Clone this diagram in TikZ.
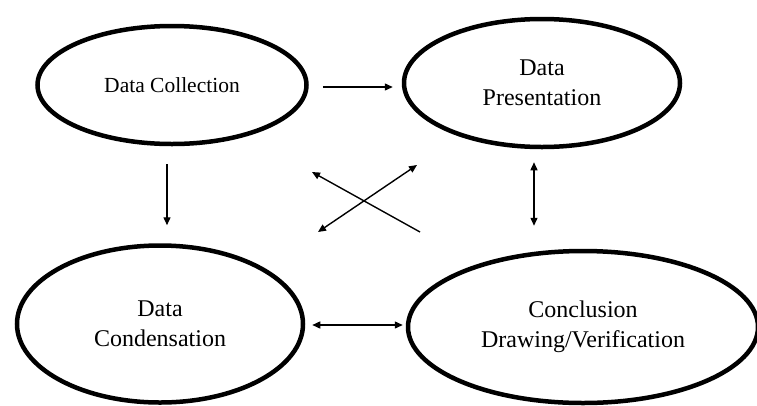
\documentclass[tikz,border=0pt]{standalone}
\usepackage{fontspec}
\setmainfont{Liberation Serif}
\usetikzlibrary{shapes.geometric, positioning, arrows.meta, calc}

\begin{document}
\begin{tikzpicture}[
    x=1pt, y=-1pt,
    stage/.style={ellipse, draw, line width=4.5pt, inner sep=0pt, align=center,
                  font=\fontsize{24}{30}\selectfont},
    flow/.style={line width=1.4pt, -{Triangle[length=8pt, width=7pt]}},
    both/.style={line width=1.4pt, {Triangle[length=8pt, width=7pt]}-{Triangle[length=8pt, width=7pt]}}
]
    \useasboundingbox (0,0) rectangle (757,405);

    % Stages
    \node[stage, minimum width=269, minimum height=118,
          font=\fontsize{21.5}{28}\selectfont] (collect) at (172,85) {Data Collection};
    \node[stage, minimum width=276, minimum height=128] (present) at (542,83) {Data\\Presentation};
    \node[stage, minimum width=286, minimum height=157] (condense) at (160,324) {Data\\Condensation};
    \node[stage, minimum width=350, minimum height=152] (conclude) at (583,327) {Conclusion\\Drawing/Verification};

    % Straight arrows
    \draw[flow, shorten <=14pt, shorten >=9pt]
        ([yshift=-2pt]collect.east) -- ([yshift=-2pt]collect.east -| present.west);
    \draw[flow, shorten <=18pt, shorten >=18pt]
        ([xshift=-5pt]collect.south) -- ([xshift=-5pt]collect.south |- condense.north);
    \draw[both, shorten <=13pt, shorten >=23pt]
        ([xshift=-8pt]present.south) -- ([xshift=-8pt]present.south |- conclude.north);
    \draw[both, shorten <=7pt, shorten >=3pt]
        ([yshift=-1pt]condense.east) -- ([yshift=-1pt]condense.east -| conclude.west);

    % Cross
    \coordinate (crossA) at (420,232);
    \coordinate (crossB) at (312,172);
    \coordinate (crossC) at (318,232);
    \coordinate (crossD) at (417,165);
    \draw[flow] (crossA) -- (crossB);
    \draw[both] (crossC) -- (crossD);
\end{tikzpicture}
\end{document}
